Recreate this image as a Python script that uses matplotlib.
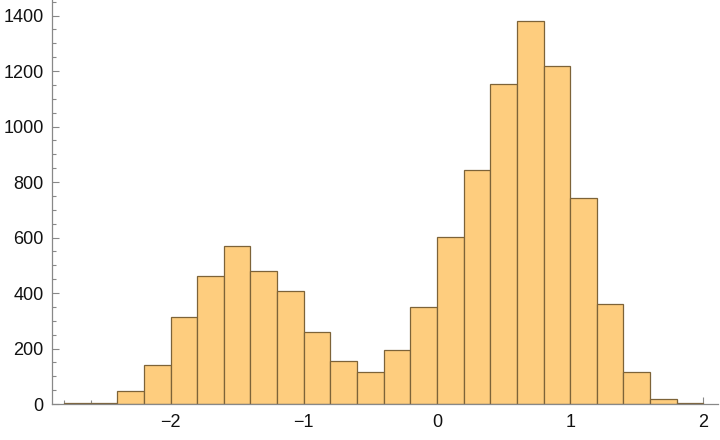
import matplotlib.pyplot as plt
import numpy as np
from matplotlib.ticker import MultipleLocator

# Bin edges (width 0.2) and counts
BIN_EDGES = [-2.8, -2.6, -2.4, -2.2, -2.0, -1.8, -1.6, -1.4, -1.2, -1.0, -0.8,
             -0.6, -0.4, -0.2, 0.0, 0.2, 0.4, 0.6, 0.8, 1.0, 1.2, 1.4, 1.6, 1.8, 2.0]
COUNTS = [2, 4, 47, 140, 313, 461, 569, 479, 407, 259, 155,
          117, 193, 351, 602, 843, 1153, 1380, 1219, 742, 360, 115, 17, 2]

X_TICKS = [-2, -1, 0, 1, 2]
Y_TICKS = [0, 200, 400, 600, 800, 1000, 1200, 1400]

FACE = "#fecd7e"
EDGE = "#7d6338"
AXIS = "#888888"

fig = plt.figure(figsize=(7.2, 4.4), dpi=100)
ax = fig.add_axes([52 / 720, 1 - 404 / 440, (718 - 52) / 720, 404 / 440])

edges = np.array(BIN_EDGES)
ax.bar(edges[:-1], COUNTS, width=np.diff(edges), align="edge",
       color=FACE, edgecolor=EDGE, linewidth=0.9, zorder=2)

ax.set_xlim(-2.89, 2.11)
ax.set_ylim(0, 1456)

for side in ["top", "right"]:
    ax.spines[side].set_visible(False)
for side in ["left", "bottom"]:
    ax.spines[side].set_color(AXIS)
    ax.spines[side].set_linewidth(0.9)

ax.set_xticks(X_TICKS)
ax.set_yticks(Y_TICKS)
ax.xaxis.set_minor_locator(MultipleLocator(0.2))
ax.yaxis.set_minor_locator(MultipleLocator(50))
ax.tick_params(which="both", direction="in", color=AXIS, width=0.8)
ax.tick_params(which="major", length=5)
ax.tick_params(which="minor", length=3)
ax.tick_params(axis="y", pad=6)
ax.tick_params(axis="x", pad=7)
for lab in ax.get_xticklabels() + ax.get_yticklabels():
    lab.set_fontfamily("Liberation Sans")
    lab.set_fontsize(13)
    lab.set_color("#111111")

fig.savefig("out.png", dpi=100)
